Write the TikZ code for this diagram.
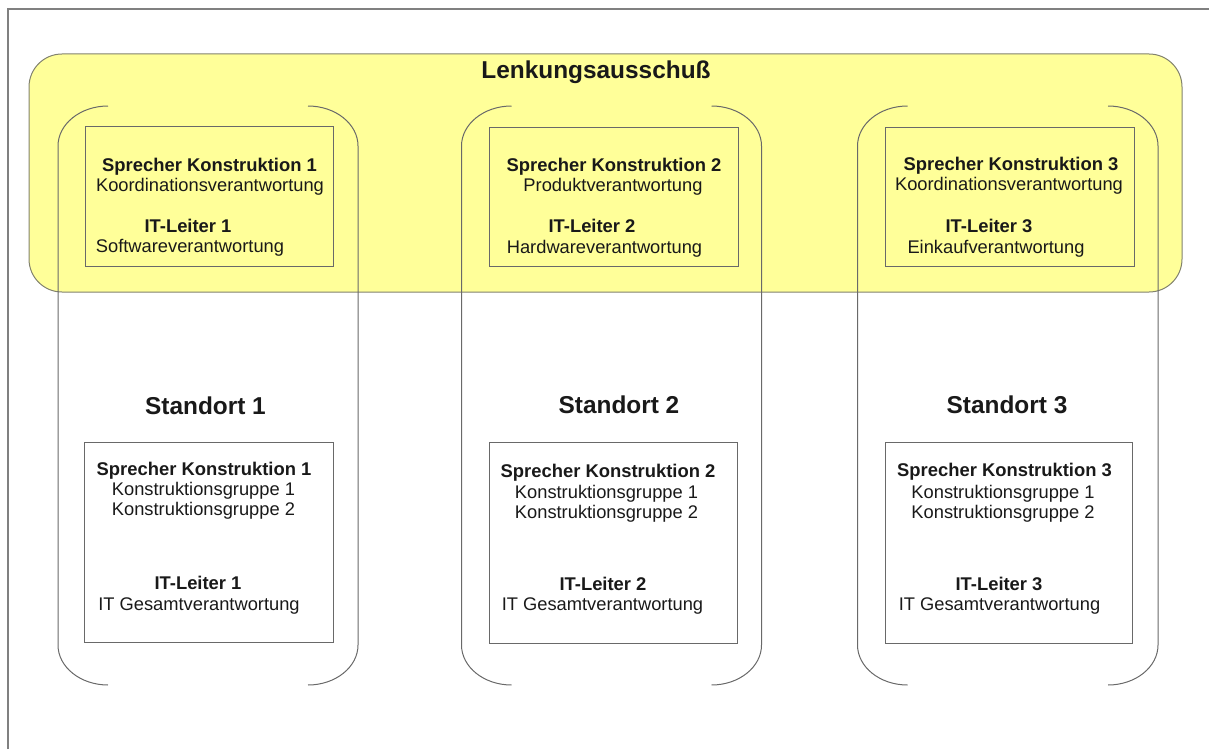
\documentclass[tikz,border=0pt]{standalone}
\usepackage{fontspec}
\setmainfont{Liberation Sans}
\definecolor{panelyellow}{RGB}{255,255,153}
\definecolor{panelline}{RGB}{130,130,110}
\definecolor{linegray}{RGB}{105,105,105}
\definecolor{framegray}{RGB}{128,128,128}
\definecolor{textgray}{RGB}{25,25,25}
\begin{document}
\begin{tikzpicture}[x=1pt,y=-1pt,
  frame/.style={draw=framegray, line width=2pt},
  panel/.style={draw=panelline, fill=panelyellow, line width=1pt, rounded corners=33pt},
  rolebox/.style={draw=linegray, line width=1pt},
  bracket/.style={draw=linegray, line width=1pt},
  txt/.style={anchor=base, inner sep=0pt, text=textgray, font=\fontsize{18.3}{20}\selectfont},
  bold/.style={txt, font=\fontsize{18.4}{20}\selectfont\bfseries},
  head/.style={anchor=base, inner sep=0pt, text=textgray, font=\fontsize{24.4}{28}\selectfont\bfseries}
]
\useasboundingbox (0,0) rectangle (1209,749);

% page frame (top and left edges only)
\draw[frame] (8,749) -- (8,9) -- (1209,9);

% steering committee band
\draw[panel] (29,54) rectangle (1182,292);
\node[head] (lenk) at (596,79) {Lenkungsausschuß};

% site brackets: rounded sides, open at top and bottom middle
\foreach \l/\r in {58/358, 461.5/761.5, 857.5/1158}{
  \draw[bracket] ({\l+50},106) .. controls ({\l+22.4},106) and (\l,124) .. (\l,146)
     -- (\l,645) .. controls (\l,667) and ({\l+22.4},685) .. ({\l+50},685);
  \draw[bracket] ({\r-50},106) .. controls ({\r-22.4},106) and (\r,124) .. (\r,146)
     -- (\r,645) .. controls (\r,667) and ({\r-22.4},685) .. ({\r-50},685);
}

% committee role boxes
\draw[rolebox] (85,126.5) rectangle (333,266);
\draw[rolebox] (489,128) rectangle (738,266);
\draw[rolebox] (885,128) rectangle (1134,266);

% site role boxes
\draw[rolebox] (84.5,442) rectangle (333,642.5);
\draw[rolebox] (489,442) rectangle (737,643);
\draw[rolebox] (885,442) rectangle (1132.5,643);

% committee members
\node[bold] (ks1) at (209.5,171) {Sprecher Konstruktion 1};
\node[txt]  (kv1) at (210,191) {Koordinationsverantwortung};
\node[bold] (it1) at (188,232) {IT-Leiter 1};
\node[txt]  (iv1) at (190,252) {Softwareverantwortung};

\node[bold] (ks2) at (614,171) {Sprecher Konstruktion 2};
\node[txt]  (kv2) at (613,191) {Produktverantwortung};
\node[bold] (it2) at (592,232.5) {IT-Leiter 2};
\node[txt]  (iv2) at (604.5,253) {Hardwareverantwortung};

\node[bold] (ks3) at (1011,170) {Sprecher Konstruktion 3};
\node[txt]  (kv3) at (1009,190) {Koordinationsverantwortung};
\node[bold] (it3) at (989,232) {IT-Leiter 3};
\node[txt]  (iv3) at (996,253) {Einkaufverantwortung};

% site headings
\node[head] (st1) at (205.5,414) {Standort 1};
\node[head] (st2) at (619,413) {Standort 2};
\node[head] (st3) at (1007,413) {Standort 3};

% site members
\node[bold] (sk1) at (204,475) {Sprecher Konstruktion 1};
\node[txt]  (ga1) at (203.5,495.5) {Konstruktionsgruppe 1};
\node[txt]  (gb1) at (203.5,515.5) {Konstruktionsgruppe 2};
\node[bold] (sl1) at (198,589) {IT-Leiter 1};
\node[txt]  (sg1) at (199,610) {IT Gesamtverantwortung};

\node[bold] (sk2) at (608,477) {Sprecher Konstruktion 2};
\node[txt]  (ga2) at (606.5,498) {Konstruktionsgruppe 1};
\node[txt]  (gb2) at (606.5,518) {Konstruktionsgruppe 2};
\node[bold] (sl2) at (603,590) {IT-Leiter 2};
\node[txt]  (sg2) at (602.5,610) {IT Gesamtverantwortung};

\node[bold] (sk3) at (1004.5,476) {Sprecher Konstruktion 3};
\node[txt]  (ga3) at (1003,498) {Konstruktionsgruppe 1};
\node[txt]  (gb3) at (1003,518) {Konstruktionsgruppe 2};
\node[bold] (sl3) at (999,590) {IT-Leiter 3};
\node[txt]  (sg3) at (999.5,610) {IT Gesamtverantwortung};
\end{tikzpicture}
\end{document}
